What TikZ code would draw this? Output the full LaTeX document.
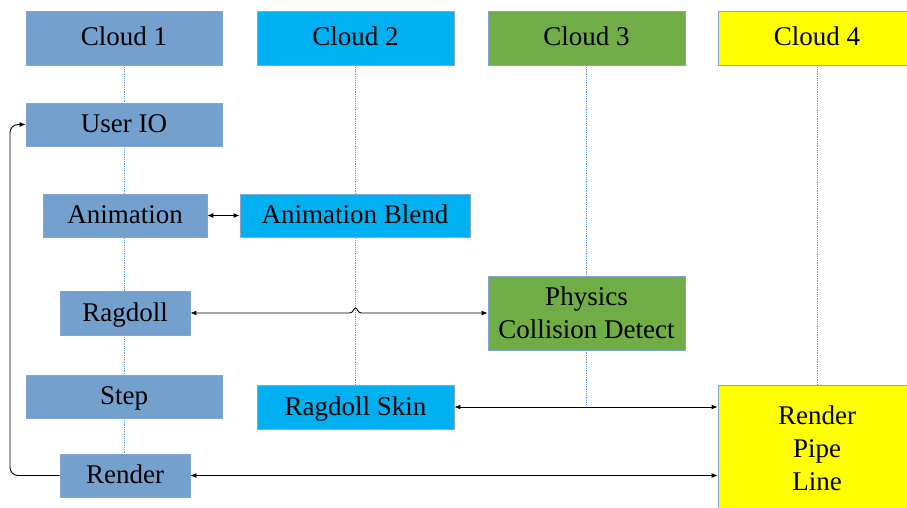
\documentclass[tikz,border=0pt]{standalone}
\usepackage{fontspec}
\setmainfont{Liberation Serif}
\usetikzlibrary{arrows.meta,calc}
\pgfdeclarelayer{background}
\pgfsetlayers{background,main}
\definecolor{cA}{RGB}{116,160,206}
\definecolor{cB}{RGB}{0,176,240}
\definecolor{cC}{RGB}{112,173,71}
\definecolor{cD}{RGB}{255,255,0}
\definecolor{edgeC}{RGB}{130,165,210}
\definecolor{lifeC}{RGB}{91,155,213}
\begin{document}
\begin{tikzpicture}[x=1pt,y=-1pt,
  box/.style={draw=edgeC,line width=0.8pt,inner sep=0pt,
    font=\fontsize{27}{33}\selectfont,text height=24pt,text depth=8pt},
  multibox/.style={draw=edgeC,line width=0.8pt,inner sep=0pt,align=center,
    font=\fontsize{27}{33}\selectfont},
  life/.style={draw=lifeC,densely dotted,line width=0.8pt},
  link/.style={draw=black,line width=0.9pt,{Latex[length=6pt,width=5pt]}-{Latex[length=6pt,width=5pt]}},
  oneway/.style={draw=black,line width=0.9pt,-{Latex[length=6pt,width=5pt]},rounded corners=8pt}]
\useasboundingbox (0,0) rectangle (907,508);
\clip (0,0) rectangle (907,508);
% header boxes
\node[box,fill=cA,minimum width=196pt,minimum height=54pt] (c1) at (124,38) {Cloud 1};
\node[box,fill=cB,minimum width=197pt,minimum height=54pt] (c2) at (355.5,38) {Cloud 2};
\node[box,fill=cC,minimum width=197pt,minimum height=54pt] (c3) at (586.5,38) {Cloud 3};
\node[box,fill=cD,minimum width=198pt,minimum height=54pt] (c4) at (817,38) {Cloud 4};
% activity boxes
\node[box,fill=cA,minimum width=196pt,minimum height=43pt] (uio) at (124,124.5) {User IO};
\node[box,fill=cA,minimum width=164pt,minimum height=43pt] (anim) at (125,215.5) {Animation};
\node[box,fill=cB,minimum width=230pt,minimum height=43pt] (blend) at (355,215.5) {Animation Blend};
\node[box,fill=cA,minimum width=130pt,minimum height=44pt] (rag) at (125,313) {Ragdoll};
\node[multibox,fill=cC,minimum width=197pt,minimum height=74pt] (phys) at (586.5,313) {Physics\\Collision Detect};
\node[box,fill=cA,minimum width=196pt,minimum height=43pt] (stp) at (124,396.5) {Step};
\node[box,fill=cB,minimum width=197pt,minimum height=44pt] (rskin) at (355.5,407) {Ragdoll Skin};
\node[box,fill=cA,minimum width=130pt,minimum height=43pt] (rnd) at (125,475.5) {Render};
\node[multibox,fill=cD,minimum width=198pt,minimum height=126pt] (rpl) at (817,448) {Render\\Pipe\\Line};
% lifelines
\coordinate (c3end) at (586.5,405);
\begin{pgfonlayer}{background}
\draw[life] (c1.south) -- (c1.south |- rnd.north);
\draw[life] (c2.south) -- (c2.south |- rskin.north);
\draw[life] (c3.south) -- (c3end);
\draw[life] (c4.south) -- (c4.south |- rpl.north);
\end{pgfonlayer}
% connectors
\draw[link] (anim.east) -- (blend.west);
\coordinate (hopA) at ($(rag.east -| c2.south)+(-6,0)$);
\coordinate (hopB) at ($(rag.east -| c2.south)+(6,0)$);
\draw[link] (rag.east) -- (hopA) .. controls ($(hopA)+(4,0)$) and ($(hopA)+(4,-5)$) .. ($(rag.east -| c2.south)+(0,-5)$)
  .. controls ($(hopB)+(-4,-5)$) and ($(hopB)+(-4,0)$) .. (hopB) -- (phys.west);
\draw[link] (rskin.east) -- (rskin.east -| rpl.west);
\draw[link] (rnd.east) -- (rnd.east -| rpl.west);
\coordinate (loopB) at (10,475.5);
\coordinate (loopT) at (10,124.5);
\draw[oneway] (rnd.west) -- (loopB) -- (loopT) -- (uio.west);
\end{tikzpicture}
\end{document}
